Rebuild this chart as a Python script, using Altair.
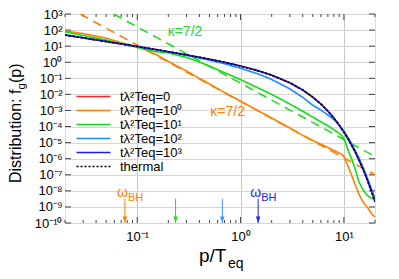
import altair as alt
import pandas as pd

# ---------------- data ----------------
p_grid = [0.02, 0.03, 0.05, 0.07, 0.1, 0.15, 0.2, 0.3, 0.5, 0.7, 1.0, 1.5, 2.0, 3.0,
          4.0, 5.0, 6.0, 7.0, 8.0, 9.0, 10.0, 11.0, 12.0, 13.0, 14.0, 15.0, 16.0,
          17.0, 18.0, 19.0, 20.0]

f_thermal = [49.5, 32.8, 19.5, 13.8, 9.51, 6.18, 4.52, 2.86, 1.54, 0.986, 0.582, 0.287,
             0.157, 0.0524, 0.0187, 0.00678, 0.00248, 0.000913, 0.000336, 0.000123,
             4.54e-5, 1.67e-5, 6.14e-6, 2.26e-6, 8.32e-7, 3.06e-7, 1.13e-7, 4.14e-8,
             1.52e-8, 5.6e-9, 2.06e-9]
f_t0 = list(f_thermal)          # tλ²Teq = 0 (lies under the thermal curve)
f_t3 = list(f_thermal)          # tλ²Teq = 10³ (on top of thermal)

f_t2 = [49.5, 32.8, 19.5, 13.8, 9.5, 6.1, 4.4, 2.7, 1.35, 0.8, 0.42, 0.18, 0.085, 0.022,
        0.0065, 0.0021, 1.05e-3, 5.2e-4, 2.75e-4, 1.2e-4, 5.2e-5, 2.0e-5, 7.6e-6, 2.8e-6,
        1.05e-6, 4.0e-7, 1.5e-7, 5.6e-8, 2.1e-8, 8.3e-9, 3.2e-9]

p_t1 = [0.02, 0.03, 0.05, 0.07, 0.1, 0.15, 0.2, 0.3, 0.37, 0.5, 0.7, 1.0, 1.5, 2.0, 3.0,
        4.0, 5.0, 6.0, 7.0, 8.0, 9.0, 9.5, 10.0, 10.5, 11.0, 12.0, 13.0, 14.0, 15.0,
        16.0, 17.0, 18.0, 19.0, 20.0]
logf_t1 = [1.9, 1.66, 1.38, 1.15, 0.92, 0.66, 0.58, 0.3, 0.1, -0.25, -0.65, -1.08, -1.62,
           -2.0, -2.6, -3.05, -3.42, -3.7, -3.95, -4.2, -4.42, -4.55, -4.75, -5.1, -5.5,
           -6.07, -6.75, -7.45, -7.85, -8.1, -8.3, -8.42, -8.5, -8.55]

p_t0p = [0.02, 0.03, 0.05, 0.07, 0.1, 0.15, 0.2, 0.3, 0.5, 0.7, 1.0, 1.5, 2.0, 3.0, 4.0,
         5.0, 6.0, 7.0, 8.0, 9.0, 9.5, 10.0, 10.5, 11.0, 12.0, 13.0, 14.0, 15.0, 16.0,
         17.0, 18.0, 19.0, 20.0]
logf_t0p = [1.95, 1.78, 1.5, 1.22, 0.98, 0.5, 0.05, -0.55, -1.35, -1.88, -2.42, -3.04,
            -3.47, -4.09, -4.55, -4.87, -5.1, -5.3, -5.48, -5.65, -5.72, -5.85, -6.15,
            -6.5, -7.1, -7.7, -8.2, -8.6, -8.85, -9.05, -9.3, -9.5, -9.63]

# kappa = 7/2 power-law guide lines (end points)
kappa_orange_p = [0.028, 20.0]
kappa_orange_f = [1e3, 1e-7]
kappa_green_p = [0.059, 20.0]
kappa_green_f = [1e3, 1.38e-6]

# omega_BH arrows
arrow_p = [0.076, 0.235, 0.666, 1.48]
arrow_colors = ["#ff8000", "#22dd22", "#3399ff", "#2020ff"]
wbh_p = [0.076, 1.48]
wbh_colors = ["#ff8000", "#2020ff"]

series_names = ["tλ²Teq=0", "tλ²Teq=10⁰", "tλ²Teq=10¹", "tλ²Teq=10²", "tλ²Teq=10³", "thermal"]
series_colors = ["#ff2020", "#ff8000", "#11dd11", "#1a8cff", "#1a1aff", "#000000"]
series_dash = [[1, 0], [1, 0], [1, 0], [1, 0], [1, 0], [2, 2]]

x_major = [0.1, 1.0, 10.0]
x_minor = [0.02, 0.03, 0.04, 0.05, 0.06, 0.07, 0.08, 0.09, 0.2, 0.3, 0.4, 0.5, 0.6, 0.7,
           0.8, 0.9, 2, 3, 4, 5, 6, 7, 8, 9, 20]
y_exps = list(range(-10, 4))

# ---------------- build tables ----------------
rows = []
def add(name, ps, fs):
    for a, b in zip(ps, fs):
        rows.append({"p": a, "f": b, "series": name})

add(series_names[0], p_grid, f_t0)
add(series_names[1], p_t0p, [10 ** v for v in logf_t0p])
add(series_names[2], p_t1, [10 ** v for v in logf_t1])
add(series_names[3], p_grid, f_t2)
add(series_names[4], p_grid, f_t3)
add(series_names[5], p_grid, f_thermal)
df = pd.DataFrame(rows)

kap = pd.DataFrame({
    "p": kappa_orange_p + kappa_green_p,
    "f": kappa_orange_f + kappa_green_f,
    "k": ["o", "o", "g", "g"],
})
arr = pd.DataFrame({"p": arrow_p, "c": arrow_colors})
wbh = pd.DataFrame({"p": wbh_p, "c": wbh_colors})

W, H = 310, 209
FONT = "Liberation Sans"

sup = str.maketrans("0123456789-", "⁰¹²³⁴⁵⁶⁷⁸⁹⁻")
def label_expr(exps):
    expr = "''"
    for e in exps:
        expr = f"round(log(datum.value)/LN10)=={e} ? '10{str(e).translate(sup)}' : ({expr})"
    return expr

xscale = alt.Scale(type="log", domain=[0.02, 20], nice=False)
yscale = alt.Scale(type="log", domain=[1e-10, 1e3], nice=False)

xaxis = alt.Axis(values=x_major, ticks=False, domain=False, grid=True, gridColor="#c8c8c8",
                 labelExpr=label_expr([-1, 0, 1]), labelFont=FONT, labelFontSize=13,
                 labelColor="black", labelPadding=7, title=None)
yaxis = alt.Axis(values=[10.0 ** e for e in y_exps], ticks=False, domain=False, grid=True,
                 gridColor="#d6d6d6", labelExpr=label_expr(y_exps), labelFont=FONT,
                 labelFontSize=13, labelColor="black", labelPadding=3, title=None)

legend = alt.Legend(orient="none", legendX=22, legendY=76, title=None,
                    symbolType="M-3.4,0H3.4", symbolSize=100, symbolStrokeWidth=1.6,
                    labelFont=FONT, labelFontSize=13, labelColor="black",
                    rowPadding=0, labelOffset=20, padding=0)

lines = alt.Chart(df).mark_line(strokeWidth=1.6, clip=True).encode(
    x=alt.X("p:Q", scale=xscale, axis=xaxis),
    y=alt.Y("f:Q", scale=yscale, axis=yaxis),
    color=alt.Color("series:N", sort=series_names,
                    scale=alt.Scale(domain=series_names, range=series_colors), legend=legend),
    strokeDash=alt.StrokeDash("series:N", sort=series_names,
                              scale=alt.Scale(domain=series_names, range=series_dash),
                              legend=legend),
)

kap_o = alt.Chart(kap[kap.k == "o"]).mark_line(color="#ff8000", strokeWidth=1.6,
                                              strokeDash=[9, 6], clip=True).encode(
    x=alt.X("p:Q", scale=xscale), y=alt.Y("f:Q", scale=yscale))
kap_g = alt.Chart(kap[kap.k == "g"]).mark_line(color="#22dd22", strokeWidth=1.6,
                                              strokeDash=[9, 6], clip=True).encode(
    x=alt.X("p:Q", scale=xscale), y=alt.Y("f:Q", scale=yscale))

arrows = alt.Chart(arr).mark_rule(strokeWidth=1).encode(
    x=alt.X("p:Q", scale=xscale), y=alt.datum(3.2e-9), y2=alt.datum(1e-10),
    color=alt.Color("c:N", scale=None))
heads = alt.Chart(arr).mark_point(shape="M-0.7,-1L0.7,-1L0,1Z", filled=True, size=40,
                                  opacity=1).encode(
    x=alt.X("p:Q", scale=xscale), y=alt.datum(1.6e-10),
    color=alt.Color("c:N", scale=None))
w_text = alt.Chart(wbh).mark_text(text="ω", font=FONT, fontSize=14, align="right",
                                  baseline="middle", dx=3).encode(
    x=alt.X("p:Q", scale=xscale), y=alt.datum(10 ** -8.12),
    color=alt.Color("c:N", scale=None))
bh_text = alt.Chart(wbh).mark_text(text="BH", font=FONT, fontSize=11, align="left",
                                   baseline="middle", dx=3).encode(
    x=alt.X("p:Q", scale=xscale), y=alt.datum(10 ** -8.45),
    color=alt.Color("c:N", scale=None))

one = pd.DataFrame({"i": [0]})
kappa_g_lbl = alt.Chart(one).mark_text(text="κ=7/2", font=FONT, fontSize=14,
                                       color="#22dd22").encode(
    x=alt.datum(0.29), y=alt.datum(10 ** 1.88))
kappa_o_lbl = alt.Chart(one).mark_text(text="κ=7/2", font=FONT, fontSize=14,
                                       color="#ff8000").encode(
    x=alt.datum(0.75), y=alt.datum(10 ** -3.09))

# inward ticks
tick_col = "#444444"
xt_major = pd.DataFrame({"p": x_major})
xt_minor = pd.DataFrame({"p": x_minor})
yt = pd.DataFrame({"f": [10.0 ** e for e in y_exps]})
ticks = []
for d, ln in ((xt_major, 6), (xt_minor, 3)):
    ticks.append(alt.Chart(d).mark_rule(color=tick_col, strokeWidth=1).encode(
        x=alt.X("p:Q", scale=xscale), y=alt.value(H), y2=alt.value(H - ln)))
    ticks.append(alt.Chart(d).mark_rule(color=tick_col, strokeWidth=1).encode(
        x=alt.X("p:Q", scale=xscale), y=alt.value(0), y2=alt.value(ln)))
ticks.append(alt.Chart(yt).mark_rule(color=tick_col, strokeWidth=1).encode(
    y=alt.Y("f:Q", scale=yscale), x=alt.value(0), x2=alt.value(6)))
ticks.append(alt.Chart(yt).mark_rule(color=tick_col, strokeWidth=1).encode(
    y=alt.Y("f:Q", scale=yscale), x=alt.value(W), x2=alt.value(W - 6)))

# axis titles with sub-scripts
ytitle1 = alt.Chart(one).mark_text(text="Distribution: f", font=FONT, fontSize=16, angle=270,
                                   align="left", baseline="alphabetic").encode(
    x=alt.value(-44), y=alt.value(169))
ytitle2 = alt.Chart(one).mark_text(text="g", font=FONT, fontSize=11.5, angle=270,
                                   align="left", baseline="alphabetic").encode(
    x=alt.value(-40.5), y=alt.value(75.6))
ytitle3 = alt.Chart(one).mark_text(text="(p)", font=FONT, fontSize=16, angle=270,
                                   align="left", baseline="alphabetic").encode(
    x=alt.value(-44), y=alt.value(69))
xtitle1 = alt.Chart(one).mark_text(text="p/T", font=FONT, fontSize=19, align="left",
                                   baseline="alphabetic").encode(
    x=alt.value(134), y=alt.value(248))
xtitle2 = alt.Chart(one).mark_text(text="eq", font=FONT, fontSize=14, align="left",
                                   baseline="alphabetic").encode(
    x=alt.value(163), y=alt.value(254))

chart = alt.layer(
    *ticks, kap_o, kap_g, lines, arrows, heads, w_text, bh_text, kappa_g_lbl, kappa_o_lbl,
    ytitle1, ytitle2, ytitle3, xtitle1, xtitle2
).properties(
    width=W, height=H,
    padding={"left": 57, "top": 6, "right": 16, "bottom": 48},
    autosize=alt.AutoSizeParams(type="none"),
).configure_view(stroke="black", strokeWidth=1).configure(background="white")

chart.save("out.html", embed_options={"renderer": "svg", "actions": False})
